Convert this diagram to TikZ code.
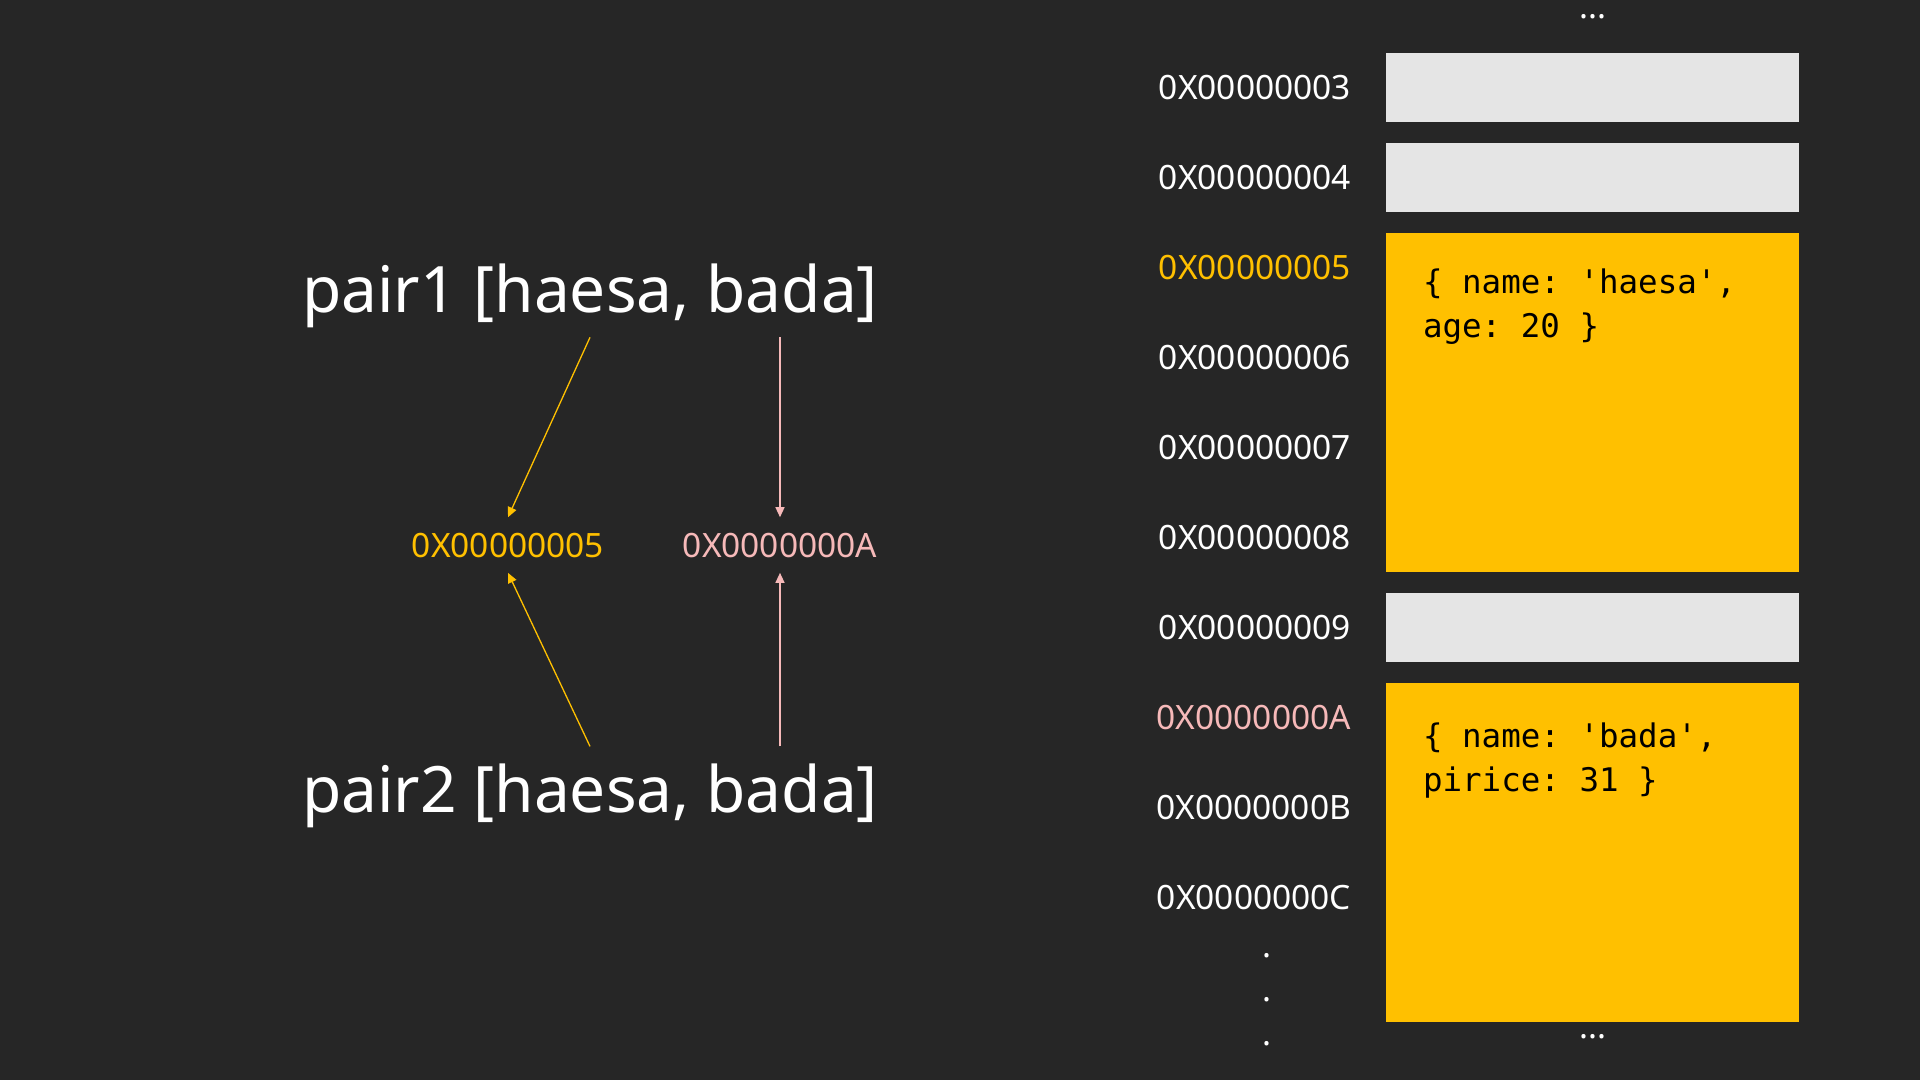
\documentclass[tikz,border=0pt]{standalone}
\usepackage{fontspec}
\setmainfont{Noto Sans}
\setmonofont{DejaVu Sans Mono}
\usetikzlibrary{positioning,arrows.meta}
\usepackage{xcolor}
\definecolor{bgdark}{HTML}{262626}
\definecolor{cellgray}{HTML}{E5E5E5}
\definecolor{objyellow}{HTML}{FFC000}
\definecolor{refpink}{HTML}{F6B9B9}

\begin{document}
\begin{tikzpicture}[x=1pt, y=-1pt, node distance=21pt, every node/.style={inner sep=0pt, outer sep=0pt}, cell/.style={fill=cellgray, minimum width=413pt, minimum height=69pt}, obj/.style={fill=objyellow, minimum width=413pt, minimum height=339pt}, code/.style={font=\ttfamily\fontsize{32.5}{44}\selectfont, align=left, text=black}, addr/.style={font=\fontsize{33.5}{44}\selectfont, text=white, align=center}, pair/.style={font=\fontsize{64}{76}\selectfont, text=white}, ptr/.style={font=\fontsize{33.5}{40}\selectfont, outer sep=15.5pt}, arr/.style={-{Triangle[length=10pt, width=9pt]}, line width=1.3pt}]
\useasboundingbox (0,0) rectangle (1920,1080);
\fill[bgdark] (0,0) rectangle (1920,1080);
% memory column
\node[cell] (c3) at (1592.5,87.5) {};
\node[cell, below=of c3] (c4) {};
\node[obj, below=of c4] (o5) {};
\node[cell, below=of o5] (c9) {};
\node[obj, below=of c9] (oA) {};
\node[code, anchor=north west] (v5) at ([xshift=37pt, yshift=-36pt]o5.north west) {\{ name: 'haesa',\\age: 20 \}};
\node[code, anchor=north west] (vA) at ([xshift=37pt, yshift=-40pt]oA.north west) {\{ name: 'bada',\\pirice: 31 \}};
\node[addr] (topdots) at (1592.5,17) {...};
\node[addr] (botdots) at (1592.5,1036.5) {...};
% addresses
\node[addr, left=35pt of c3] (a3) {0X00000003};
\node[addr, left=35pt of c4] (a4) {0X00000004};
\node[addr, anchor=east, text=objyellow] (a5) at (1351,267.5) {0X00000005};
\node[addr, anchor=east] (a6) at (1351,357.5) {0X00000006};
\node[addr, anchor=east] (a7) at (1351,447.5) {0X00000007};
\node[addr, anchor=east] (a8) at (1351,537.5) {0X00000008};
\node[addr, left=35pt of c9] (a9) {0X00000009};
\node[addr, anchor=east, text=refpink] (aA) at (1351,717.5) {0X0000000A};
\node[addr, anchor=east] (aB) at (1351,807.5) {0X0000000B};
\node[addr, anchor=east] (aC) at (1351,897.5) {0X0000000C};
\node[addr] (vdots) at (1267,1000) {.\\.\\.};
% pairs and references
\node[pair, anchor=base] (p1) at (590,312) {pair1 [haesa, bada]};
\node[pair, anchor=base] (p2) at (590,812) {pair2 [haesa, bada]};
\node[ptr, anchor=base, text=objyellow] (m5) at (508,557) {0X00000005};
\node[ptr, anchor=base, text=refpink] (mA) at (780,557) {0X0000000A};
\draw[arr, objyellow] ([yshift=-10pt]p1.south) -- (m5.north);
\draw[arr, refpink] ([yshift=-10pt]p1.south -| mA.north) -- (mA.north);
\draw[arr, objyellow] ([yshift=17pt]p2.north) -- (m5.south);
\draw[arr, refpink] ([yshift=17pt]p2.north -| mA.south) -- (mA.south);
\end{tikzpicture}
\end{document}
